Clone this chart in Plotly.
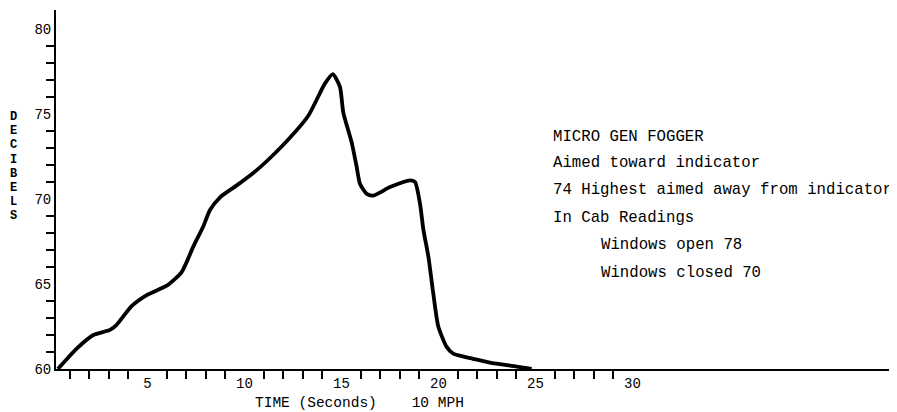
import plotly.graph_objects as go

# Data
time_s = [0.38, 1.35, 2.21, 3.07, 3.41, 4.18, 4.96, 5.99, 6.76, 7.36, 7.88, 8.22, 8.74, 9.6,
          10.63, 11.4, 12.34, 13.29, 14.15, 14.55, 14.92, 15.09, 15.53, 15.78, 15.95, 16.3,
          16.64, 17.5, 18.53, 18.79, 19.05, 19.22, 19.48, 19.73, 19.99, 20.42, 20.76, 21.79,
          22.65, 24.03, 24.8]
decibels = [60.0, 61.2, 62.0, 62.3, 62.6, 63.7, 64.35, 64.9, 65.7, 67.2, 68.4, 69.35, 70.1, 70.8,
            71.7, 72.5, 73.6, 74.9, 76.8, 77.35, 76.6, 75.1, 73.3, 71.9, 70.9, 70.3,
            70.2, 70.7, 71.1, 71.0, 69.7, 68.2, 66.6, 64.45, 62.5, 61.3, 60.9, 60.6,
            60.37, 60.14, 60.0]

x_major = [5, 10, 15, 20, 25, 30]
x_minor = [v for v in range(1, 30) if v % 5 != 0]
y_major = [60, 65, 70, 75, 80]
y_minor = [v for v in range(61, 80) if v % 5 != 0]

notes = ["MICRO GEN FOGGER",
         "Aimed toward indicator",
         "74 Highest aimed away from indicator",
         "In Cab Readings",
         "Windows open 78",
         "Windows closed 70"]
note_indent = [0, 0, 0, 0, 1, 1]

x_title = "TIME (Seconds)\u00a0\u00a0\u00a0 10 MPH"
y_title = "DECIBELS"

FONT = "Liberation Mono"
OFF = 8  # page body margin in the browser
W, H = 897 - OFF, 412 - OFF
X0, Y0, X1, Y1 = 56, 10, 897, 369  # plot area in page pixels
L, R, T, B = X0 - OFF, 897 - X1, Y0 - OFF, 412 - Y1
PW, PH = X1 - X0, Y1 - Y0
X_ORIGIN_PX, X_SCALE = 50.5, 19.4  # page pixel of t=0, pixels per second


def px_x(px):
    return (px - X0) / PW


def px_y(py):
    return (Y1 - py) / PH


fig = go.Figure()
fig.add_trace(go.Scatter(x=time_s, y=decibels, mode="lines",
                         line=dict(color="black", width=3.8, shape="spline", smoothing=0.6),
                         hoverinfo="skip", showlegend=False))

annotations = []
note_y = [137, 163, 190, 218, 245, 273]
for txt, ind, py in zip(notes, note_indent, note_y):
    annotations.append(dict(text=txt, xref="paper", yref="paper",
                            x=px_x(551 + ind * 48), y=px_y(py), xanchor="left", yanchor="middle",
                            showarrow=False, font=dict(family=FONT, size=15.7, color="black")))

annotations.append(dict(text=x_title, xref="paper", yref="paper", x=px_x(359), y=px_y(403),
                        xanchor="center", yanchor="middle", showarrow=False,
                        font=dict(family=FONT, size=14.5, color="black")))
for i, ch in enumerate(y_title):
    annotations.append(dict(text="<b>" + ch + "</b>", xref="paper", yref="paper",
                            x=px_x(13), y=px_y(117 + i * 14.2), xanchor="center", yanchor="middle",
                            showarrow=False, font=dict(family=FONT, size=12, color="black")))

fig.update_layout(
    width=W, height=H,
    margin=dict(l=L, r=R, t=T, b=B, pad=0, autoexpand=False),
    paper_bgcolor="white", plot_bgcolor="white",
    font=dict(family=FONT, size=14, color="black"),
    annotations=annotations,
    xaxis=dict(range=[(X0 - X_ORIGIN_PX) / X_SCALE, (X1 - X_ORIGIN_PX) / X_SCALE],
               showgrid=False, zeroline=False, automargin=False,
               showline=True, linecolor="black", linewidth=2,
               tickmode="array", tickvals=x_major, ticktext=[str(v) for v in x_major],
               ticks="", ticklen=0,
               tickfont=dict(family=FONT, size=14, color="black"),
               minor=dict(tickmode="array", tickvals=x_minor, ticks="outside",
                          ticklen=8, tickwidth=1.5, tickcolor="black", showgrid=False)),
    yaxis=dict(range=[60, 60 + PH / 17], showgrid=False, zeroline=False, automargin=False,
               showline=True, linecolor="black", linewidth=2,
               tickmode="array", tickvals=y_major, ticktext=[str(v) for v in y_major],
               ticks="", ticklen=0,
               tickfont=dict(family=FONT, size=14, color="black"),
               minor=dict(tickmode="array", tickvals=y_minor, ticks="outside",
                          ticklen=8, tickwidth=1.5, tickcolor="black", showgrid=False)),
)

fig.write_html("out.html")
